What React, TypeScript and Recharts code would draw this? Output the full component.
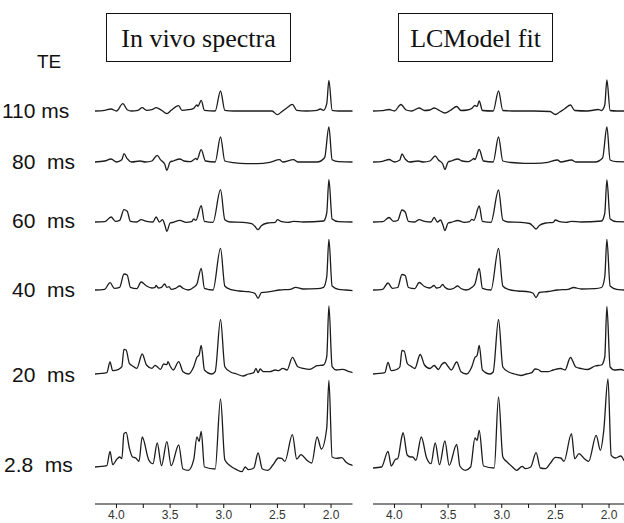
import { LineChart, Line, XAxis, YAxis } from 'recharts'

// ppm axis
const ppmTicks = [4.0, 3.75, 3.5, 3.25, 3.0, 2.75, 2.5, 2.25, 2.0]
const majorTicks = [4.0, 3.5, 3.0, 2.5, 2.0]
const echoLabels = ['110 ms', '80  ms', '60  ms', '40  ms', '20  ms', '2.8  ms']
const titles = ['In vivo spectra', 'LCModel fit']

// each spectrum: [ppm, height above its baseline]
const vivo110: [number, number][] = [
  [4.2, 0], [4.11, 0.7], [4.05, 2], [4.0, 0], [3.94, 7.3], [3.9, 1.3], [3.86, 0], [3.8, 0.7], [3.76, 3.3],
  [3.72, 0.7], [3.67, 1.3], [3.63, 3.3], [3.58, 0.7], [3.53, -2.7], [3.49, 0.7], [3.42, 5.3], [3.39, 0.7],
  [3.33, 1.3], [3.28, 2.7], [3.25, 6], [3.24, 4.7], [3.21, 10.7], [3.18, 0.7], [3.08, 0], [3.03, 20],
  [2.99, 0.7], [2.91, 0], [2.69, 0], [2.55, 0], [2.5, -3.7], [2.46, -0.7], [2.41, 3.3], [2.36, 6.7],
  [2.32, 0.7], [2.23, 0], [2.13, 0.7], [2.1, 2], [2.07, 0.7], [2.04, 7.3], [2.02, 30.7], [1.99, 0.7],
  [1.93, 0], [1.79, 0],
]
const vivo80: [number, number][] = [
  [4.2, 0], [4.11, 1], [4.05, 3], [4.0, 0], [3.95, 2.3], [3.93, 8.3], [3.9, 3.3], [3.86, 0], [3.78, 1],
  [3.73, 0], [3.67, 1], [3.62, 6.7], [3.59, 2.3], [3.55, -2.3], [3.53, -8.3], [3.5, 0], [3.47, 1],
  [3.41, 3], [3.37, 1], [3.31, 0.3], [3.28, 2.3], [3.26, 3.7], [3.25, 2.3], [3.21, 12.3], [3.17, 1],
  [3.08, 0], [3.03, 25], [2.99, 1], [2.91, -0.7], [2.79, -1.7], [2.69, -1.7], [2.57, -0.3], [2.48, 2.3],
  [2.45, 0], [2.35, 2.3], [2.31, 0], [2.13, 0], [2.06, 4.3], [2.02, 35], [1.99, 2.3], [1.93, 0.3],
  [1.79, 0],
]
const vivo60: [number, number][] = [
  [4.2, 0], [4.11, 0.3], [4.05, 5], [4.01, 0.7], [3.97, 1.7], [3.93, 12.3], [3.9, 10.7], [3.87, 0.7],
  [3.81, 0], [3.77, 2.3], [3.72, 0.7], [3.66, 0], [3.63, 5], [3.6, 0], [3.57, 2.3], [3.55, -2.7],
  [3.53, -9.3], [3.5, -1], [3.47, -0.3], [3.41, 1.7], [3.35, -0.3], [3.3, 0.3], [3.28, 3], [3.26, 1.7],
  [3.21, 16.3], [3.18, 0.7], [3.1, -0.3], [3.03, 32.3], [2.99, 2.3], [2.94, 0], [2.82, -0.3],
  [2.74, -1.7], [2.71, -4.3], [2.68, -7.7], [2.65, -3.7], [2.59, -1], [2.52, -0.3], [2.5, 2.3],
  [2.46, 0.3], [2.4, -0.3], [2.35, 0.7], [2.26, 0], [2.07, 1], [2.04, 9], [2.02, 42.3], [1.99, 3],
  [1.93, 0.3], [1.79, 0],
]
const vivo40: [number, number][] = [
  [4.2, 0], [4.11, 0.7], [4.06, 7.3], [4.02, 1.7], [3.97, 2.7], [3.93, 16], [3.9, 15], [3.87, 2.7],
  [3.81, 1.3], [3.77, 8], [3.72, 4], [3.67, 2], [3.64, 2.7], [3.63, 4.7], [3.61, 2], [3.58, 2.7],
  [3.55, 6], [3.53, 2.7], [3.51, 3.3], [3.49, 0.7], [3.45, 1.7], [3.41, 4], [3.38, 1.7], [3.33, 0],
  [3.28, 2.7], [3.25, 6], [3.21, 21.7], [3.18, 1.7], [3.1, 0], [3.03, 41.7], [2.99, 4], [2.94, 0.7],
  [2.85, -1], [2.77, -1.7], [2.71, -3.3], [2.68, -8.3], [2.65, -2.7], [2.57, -1.7], [2.48, 0],
  [2.38, 0.7], [2.33, 2.7], [2.26, 1], [2.13, 1.3], [2.07, 2.7], [2.04, 13.3], [2.02, 50.7], [1.99, 4],
  [1.93, 0.7], [1.86, 0], [1.79, -0.7],
]
const vivo20: [number, number][] = [
  [4.2, 0], [4.09, 1.3], [4.06, 12], [4.035, 3.3], [3.98, 4.7], [3.95, 7.3], [3.93, 24.7], [3.91, 24],
  [3.88, 10.7], [3.85, 8], [3.81, 5.7], [3.76, 20], [3.72, 9], [3.67, 5.7], [3.64, 8.7], [3.62, 7.3],
  [3.59, 4.7], [3.56, 10], [3.53, 9.3], [3.52, 12.3], [3.5, 8], [3.47, 4], [3.42, 12.3], [3.38, 2.3],
  [3.33, 0], [3.28, 7.3], [3.25, 16.7], [3.23, 19], [3.21, 28.7], [3.18, 4], [3.11, 0], [3.08, 2.3],
  [3.03, 54.7], [2.99, 7.3], [2.94, 2.3], [2.88, 0], [2.82, -2], [2.77, 0], [2.72, 1.3], [2.7, 5.7],
  [2.68, 1.3], [2.66, 5], [2.63, 2.3], [2.57, 2.3], [2.52, 4], [2.49, 3.3], [2.45, 5.7], [2.41, 4],
  [2.36, 16.7], [2.31, 7.3], [2.26, 5.7], [2.2, 4.7], [2.13, 8.3], [2.07, 9], [2.04, 17.3], [2.02, 68],
  [1.99, 7.3], [1.95, 4], [1.89, 4.7], [1.84, 2.7], [1.79, 1.3],
]
const vivo28: [number, number][] = [
  [4.2, 0], [4.09, 1.3], [4.06, 15.7], [4.035, 2.3], [4.0, 7.3], [3.97, 10], [3.95, 8.3], [3.93, 33.3],
  [3.91, 34.7], [3.88, 19], [3.85, 10], [3.82, 9], [3.79, 5.7], [3.76, 30], [3.7, 7.3], [3.66, 3.3],
  [3.62, 24], [3.58, 1.3], [3.53, 25.3], [3.49, 1.3], [3.42, 22], [3.38, -2], [3.33, -3.3], [3.28, 7.3],
  [3.25, 30], [3.23, 25.7], [3.21, 35.7], [3.18, 0], [3.08, -2], [3.03, 68], [2.99, 7.3], [2.94, 1.3],
  [2.88, -2.7], [2.83, -4.7], [2.8, 0], [2.77, -2.7], [2.72, -1], [2.68, 14], [2.64, -2], [2.59, -3.3],
  [2.54, 2.3], [2.49, 9], [2.46, 8.7], [2.43, 5.7], [2.36, 32.3], [2.32, 8], [2.28, 12.3], [2.23, 7.3],
  [2.18, 4], [2.13, 30], [2.09, 18], [2.04, 39], [2.02, 86.7], [1.99, 10], [1.95, 8.7], [1.9, 9.3],
  [1.86, 4.7], [1.79, 1.3],
]

const fit110: [number, number][] = [
  [4.2, 0], [4.12, 0.3], [4.05, 1.5], [4.0, 0], [3.94, 6.5], [3.89, 1], [3.84, 0], [3.77, 3], [3.72, 0.5],
  [3.67, 1], [3.63, 3], [3.58, 0.5], [3.53, -2], [3.48, 0.5], [3.42, 4.5], [3.38, 0.5], [3.32, 1],
  [3.28, 2.5], [3.25, 5.5], [3.23, 4.5], [3.21, 10], [3.18, 0.5], [3.08, 0], [3.03, 20], [2.99, 0.5],
  [2.9, 0], [2.7, 0], [2.55, -0.5], [2.5, -3.5], [2.46, -1], [2.41, 2.5], [2.36, 6], [2.32, 0.5],
  [2.2, 0], [2.1, 1.5], [2.07, 0.5], [2.04, 6], [2.02, 31], [1.99, 0.5], [1.93, 0], [1.8, 0],
]
const fit80: [number, number][] = [
  [4.2, 0], [4.11, 0.7], [4.05, 2.5], [4.0, 0], [3.95, 2], [3.93, 8], [3.9, 3], [3.86, 0], [3.78, 1],
  [3.73, 0], [3.67, 1], [3.62, 6], [3.59, 2], [3.55, -2], [3.53, -7.5], [3.5, 0], [3.47, 1], [3.41, 3],
  [3.37, 1], [3.31, 0.3], [3.28, 2], [3.26, 3.5], [3.25, 2.5], [3.21, 12.5], [3.17, 1], [3.08, 0],
  [3.03, 25], [2.99, 1], [2.91, -0.5], [2.79, -1.3], [2.69, -1.3], [2.57, -0.3], [2.48, 2],
  [2.45, 0], [2.35, 2], [2.31, 0], [2.13, 0], [2.06, 4], [2.02, 35], [1.99, 2], [1.93, 0.3], [1.8, 0],
]
const fit60: [number, number][] = [
  [4.2, 0], [4.11, 0.3], [4.05, 4.5], [4.01, 0.7], [3.97, 1.5], [3.93, 12], [3.9, 10], [3.87, 0.7],
  [3.81, 0], [3.77, 2.3], [3.72, 0.7], [3.66, 0], [3.63, 4.5], [3.6, 0], [3.57, 2], [3.55, -2.5],
  [3.53, -8.5], [3.5, -1], [3.47, -0.3], [3.41, 1.5], [3.35, -0.3], [3.3, 0.3], [3.28, 2.7],
  [3.26, 1.7], [3.21, 16], [3.18, 0.7], [3.1, -0.3], [3.03, 32], [2.99, 2], [2.94, 0], [2.82, -0.3],
  [2.74, -1.5], [2.71, -4], [2.68, -7], [2.65, -3.5], [2.59, -1], [2.52, -0.3], [2.5, 2], [2.46, 0.3],
  [2.4, -0.3], [2.35, 0.7], [2.26, 0], [2.07, 1], [2.04, 8.5], [2.02, 42], [1.99, 3], [1.93, 0.3],
  [1.8, 0],
]
const fit40: [number, number][] = [
  [4.2, 0], [4.11, 0.7], [4.06, 7], [4.02, 1.7], [3.97, 2.5], [3.93, 15.5], [3.9, 14.5], [3.87, 2.5],
  [3.81, 1.3], [3.77, 7.5], [3.72, 3.5], [3.67, 2], [3.63, 4.5], [3.61, 2], [3.58, 2.5], [3.55, 5.5],
  [3.53, 2.7], [3.49, 0.7], [3.45, 1.5], [3.41, 4], [3.38, 1.5], [3.33, 0], [3.28, 2.5], [3.25, 6],
  [3.21, 21.5], [3.18, 1.7], [3.1, 0], [3.03, 41.5], [2.99, 4], [2.94, 0.7], [2.85, -1], [2.77, -1.5],
  [2.71, -3], [2.68, -7.5], [2.65, -2.5], [2.57, -1.5], [2.48, 0], [2.38, 0.7], [2.33, 2.5], [2.26, 1],
  [2.13, 1.3], [2.07, 2.5], [2.04, 13], [2.02, 50.5], [1.99, 4], [1.93, 0.7], [1.86, 0], [1.8, -0.5],
]
const fit20: [number, number][] = [
  [4.2, 0], [4.09, 1.3], [4.06, 11.5], [4.03, 3.3], [3.98, 4.5], [3.95, 7], [3.93, 23.5], [3.91, 23],
  [3.88, 10.5], [3.85, 8], [3.81, 5.5], [3.76, 19.5], [3.72, 9], [3.67, 5.5], [3.63, 8.5], [3.59, 4.5],
  [3.56, 9.5], [3.53, 11.5], [3.5, 7.5], [3.47, 4], [3.42, 12], [3.38, 2.3], [3.33, 0], [3.28, 7],
  [3.25, 16.5], [3.23, 18.5], [3.21, 28.5], [3.18, 4], [3.11, 0], [3.08, 2], [3.03, 54.5], [2.99, 7],
  [2.94, 2.3], [2.88, 0], [2.82, -1.5], [2.77, 0], [2.72, 1.3], [2.69, 5], [2.66, 4.5], [2.63, 2.3],
  [2.57, 2.3], [2.52, 4], [2.45, 5.5], [2.41, 4], [2.36, 16.5], [2.31, 7], [2.26, 5.5], [2.2, 4.5],
  [2.13, 8], [2.07, 9], [2.04, 17], [2.02, 67.5], [1.99, 7], [1.95, 4], [1.89, 4.5], [1.84, 2.7],
  [1.8, 1.3],
]
const fit28: [number, number][] = [
  [4.2, -1], [4.12, 0], [4.06, 15.7], [4.03, 1], [3.99, 7.7], [3.97, 8.3], [3.93, 31], [3.92, 34.3],
  [3.88, 11.7], [3.85, 10], [3.83, 10], [3.8, 6.7], [3.75, 30], [3.7, 9], [3.66, 3.3], [3.62, 24],
  [3.58, 2.3], [3.53, 26], [3.49, 1.7], [3.42, 22.7], [3.39, 1], [3.34, -3.3], [3.29, 0], [3.25, 29],
  [3.23, 26.7], [3.21, 36.7], [3.17, 1], [3.07, -1], [3.03, 70], [2.99, 10], [2.95, 5], [2.9, 0],
  [2.86, -3.3], [2.81, 0.7], [2.78, -1.7], [2.73, 0], [2.68, 14.3], [2.64, -1], [2.59, -1.7],
  [2.55, 3.3], [2.5, 9.7], [2.45, 9], [2.42, 5.7], [2.35, 33.3], [2.32, 8.3], [2.28, 13.3], [2.23, 8.3],
  [2.19, 5.7], [2.12, 31.7], [2.08, 16.7], [2.05, 35.7], [2.01, 88], [1.98, 11.7], [1.94, 9],
  [1.89, 11], [1.855, 5.7], [1.8, 3],
]

const vivoTraces = [vivo110, vivo80, vivo60, vivo40, vivo20, vivo28]
const fitTraces = [fit110, fit80, fit60, fit40, fit20, fit28]

// layout: baseline of each trace, in px above y=506
const baselines = [395, 344, 284, 216, 132, 39]
const labelTops = [99, 150, 209, 278, 363, 453]
const labelLefts = [2, 12, 12, 12, 12, 4]

const sans = '"Liberation Sans", Arial, sans-serif'
const serif = '"Liberation Serif", "Times New Roman", serif'

const boxStyle = {
  position: 'absolute' as const,
  top: 13,
  height: 49,
  border: '1.5px solid #111',
  boxSizing: 'border-box' as const,
  display: 'flex',
  alignItems: 'center',
  justifyContent: 'center',
  fontFamily: serif,
  fontSize: 26,
  color: '#111',
  paddingTop: 3,
}

function Panel({ traces, left }: { traces: [number, number][][]; left: number }) {
  return (
    <div style={{ position: 'absolute', left, top: 70 }}>
      <LineChart width={257.5} height={454} margin={{ top: 0, right: 0, bottom: 0, left: 0 }}>
        <XAxis
          dataKey="ppm"
          type="number"
          domain={[1.8, 4.2]}
          reversed
          allowDataOverflow
          ticks={ppmTicks}
          interval={0}
          height={20}
          tickSize={4}
          tickMargin={2}
          axisLine={{ stroke: '#111', strokeWidth: 1.2 }}
          tickLine={{ stroke: '#111' }}
          tick={{ fontSize: 12, fill: '#333', fontFamily: sans }}
          tickFormatter={(v) => (majorTicks.includes(v) ? v.toFixed(1) : '')}
        />
        <YAxis type="number" domain={[2, 436]} hide allowDataOverflow />
        {traces.map((t, i) => (
          <Line
            key={i}
            data={t.map(([ppm, h]) => ({ ppm, v: h + baselines[i] }))}
            dataKey="v"
            type="monotone"
            stroke="#1c1c1c"
            strokeWidth={1.3}
            dot={false}
            isAnimationActive={false}
          />
        ))}
      </LineChart>
    </div>
  )
}

export default function App() {
  return (
    <div style={{ position: 'absolute', left: 0, top: 0, width: 624, height: 523, overflow: 'hidden', background: '#fff' }}>
      <div style={{ ...boxStyle, left: 106, width: 185 }}>{titles[0]}</div>
      <div style={{ ...boxStyle, left: 398, width: 155 }}>{titles[1]}</div>
      <div style={{ position: 'absolute', left: 37, top: 51, fontFamily: sans, fontSize: 19, color: '#111' }}>TE</div>
      {echoLabels.map((s, i) => (
        <div key={s} style={{ position: 'absolute', left: labelLefts[i], top: labelTops[i], fontFamily: sans, fontSize: 21, color: '#111', whiteSpace: 'pre' }}>
          {s}
        </div>
      ))}
      <Panel traces={vivoTraces} left={95} />
      <Panel traces={fitTraces} left={372.7} />
    </div>
  )
}
